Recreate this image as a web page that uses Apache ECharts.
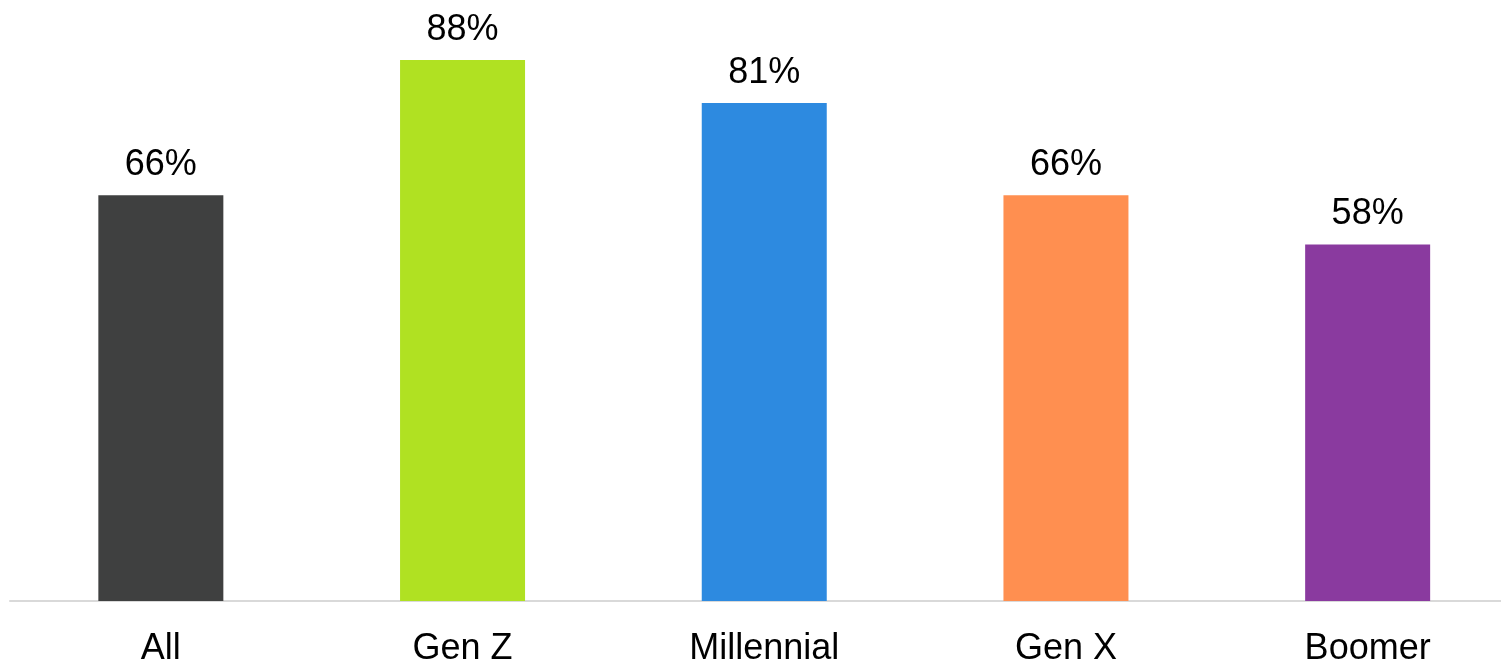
<!DOCTYPE html>
<html>
<head>
<meta charset="utf-8">
<script src="https://cdn.jsdelivr.net/npm/echarts@6/dist/echarts.min.js"></script>
<style>
  html, body { margin: 0; padding: 0; background: #ffffff; }
  #chart { width: 1501px; height: 664px; }
</style>
</head>
<body>
<div id="chart"></div>
<script>
// Share of respondents by generation (percent)
const categories = ['All', 'Gen Z', 'Millennial', 'Gen X', 'Boomer'];
const values = [66, 88, 81, 66, 58];
const barColors = ['#3f4040', '#b0e122', '#2d8ae0', '#ff8f50', '#8a3a9f'];

const chart = echarts.init(document.getElementById('chart'), null, { renderer: 'canvas' });

// Each category occupies one unit on the x scale, centred on its index;
// the last band runs slightly past the right edge of the canvas.
const gridLeft = 10;
const gridWidth = 1501 - gridLeft;
const bandPx = 301.7;

chart.setOption({
  animation: false,
  backgroundColor: '#ffffff',
  textStyle: { fontFamily: '"Liberation Sans", Arial, sans-serif' },
  grid: {
    left: gridLeft, right: 0, top: 0, bottom: 63,
    containLabel: false,
    outerBoundsMode: 'none'
  },
  xAxis: {
    type: 'value',
    min: -0.5,
    max: -0.5 + gridWidth / bandPx,
    splitLine: { show: false },
    axisTick: { show: false },
    axisLine: { show: true, onZero: false, lineStyle: { color: '#d9d9d9', width: 2 } },
    axisLabel: {
      customValues: categories.map((c, i) => i),
      formatter: v => categories[Math.round(v)],
      color: '#000000',
      fontSize: 36,
      margin: 30,
      fontFamily: '"Liberation Sans", Arial, sans-serif'
    }
  },
  yAxis: {
    type: 'value',
    min: 0,
    max: 97.75,
    show: false,
    splitLine: { show: false }
  },
  series: [{
    type: 'bar',
    barWidth: 125,
    data: values.map((v, i) => ({ value: [i, v], itemStyle: { color: barColors[i] } })),
    label: {
      show: true,
      position: 'top',
      distance: 12,
      color: '#000000',
      fontSize: 36,
      fontFamily: '"Liberation Sans", Arial, sans-serif',
      formatter: p => p.value[1] + '%'
    }
  }]
});
</script>
</body>
</html>
